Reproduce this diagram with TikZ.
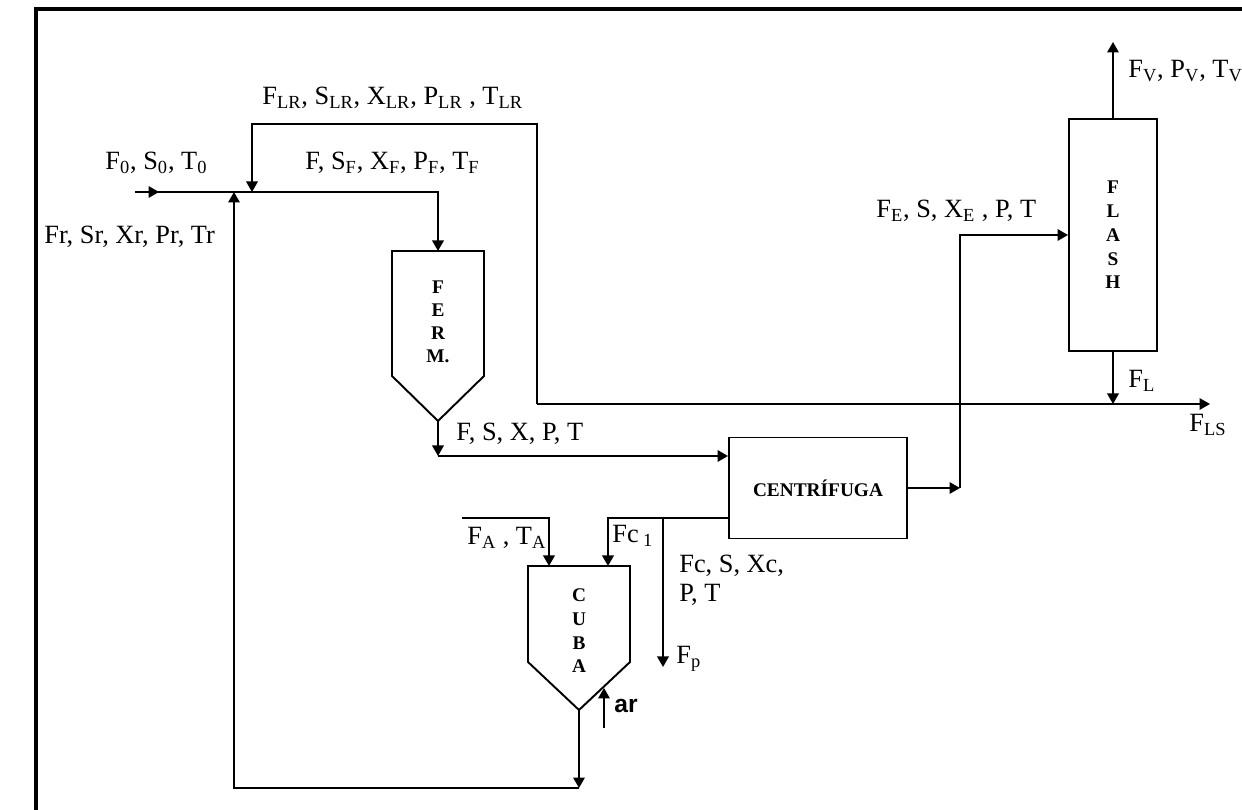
\documentclass[tikz,border=0pt]{standalone}
\usepackage{fontspec}
\setmainfont{Liberation Serif}
\setsansfont{Liberation Sans}
\usetikzlibrary{arrows.meta,positioning,calc}
\tikzset{
  pipe/.style={line width=1.1pt},
  flow/.style={pipe, -{Triangle[length=2.1mm,width=2.3mm]}},
  frame/.style={line width=1.8pt},
  unit/.style={
    draw=black,
    line width=1.1pt,
    fill=white,
    align=center,
    inner sep=0pt
  },
  tag/.style={align=center, inner sep=0pt, font=\bfseries\fontsize{11}{13}\selectfont},
  stream/.style={inner sep=0pt, font=\fontsize{15}{17}\selectfont}
}
% vessel with conical bottom: name, x centre, y top, half width, y cone start, y tip
\newcommand{\tank}[6]{
  \draw[pipe] (#2-#4,#3) -- (#2+#4,#3) -- (#2+#4,#5) -- (#2,#6) -- (#2-#4,#5) -- cycle;
  \coordinate (#1-top) at (#2,#3);
  \coordinate (#1-tip) at (#2,#6);
}

\begin{document}
\begin{tikzpicture}[x=0.02cm, y=-0.02cm]
  \useasboundingbox (0,0) rectangle (1242,810);
  \draw[frame] (36,830) -- (36,9) -- (1260,9);

  % equipment
  \node[unit, minimum width=1.76cm, minimum height=4.64cm, font=\bfseries\fontsize{11}{13.5}\selectfont] (flash) at (1113,235) {F\\L\\A\\S\\H};
  \node[unit, minimum width=3.56cm, minimum height=2.02cm, font=\bfseries\fontsize{11}{13}\selectfont] (cent) at (818,488) {CENTRÍFUGA};
  \tank{ferm}{438}{251}{46}{376}{421}
  \node[tag] (fermtag) at (438,322) {F\\E\\R\\M.};
  \tank{cuba}{579}{566}{51}{662}{710}
  \node[tag, font=\bfseries\fontsize{11}{13.5}\selectfont] (cubatag) at (579,631) {C\\U\\B\\A};

  % stream points
  \coordinate (f0in) at (135,192);
  \coordinate (rjoin) at (234,192);
  \coordinate (lrjoin) at (252,192);
  \coordinate (lrtop) at (252,124);
  \coordinate (lsjoin) at (537,404);
  \coordinate (lsout) at (1210,404);
  \coordinate (vout) at (1113,42);
  \coordinate (fout) at (438,456);
  \coordinate (eturn) at (960,488);
  \coordinate (cbranch) at (663,518);
  \coordinate (fc1in) at (608,566);
  \coordinate (fpout) at (663,667);
  \coordinate (fain) at (462,518);
  \coordinate (fatop) at (549,566);
  \coordinate (arin) at (604,728);
  \coordinate (artip) at (604,688);
  \coordinate (cubaout) at (579,788);
  \coordinate (rbot) at (234,788);

  % streams
  \draw[flow] (f0in) -| (ferm-top);
  \draw[flow] (f0in) -- ++(24,0);
  \draw[flow] (lsjoin) -- (lsout);
  \draw[flow] (lsjoin) |- (lrtop) -- (lrjoin);
  \draw[flow] (flash.north) -- (vout);
  \draw[flow] (flash.south) -- (flash.south |- lsout);
  \draw[flow] (ferm-tip) -- (fout);
  \draw[flow] (fout) -- (fout -| cent.west);
  \draw[flow] (cent.east) -- (eturn);
  \draw[flow] (eturn) |- (flash.west);
  \draw[flow] (cent.west |- cbranch) -| (fc1in);
  \draw[flow] (cbranch) -- (fpout);
  \draw[flow] (fain) -| (fatop);
  \draw[flow] (arin) -- (artip);
  \draw[flow] (cuba-tip) -- (cubaout);
  \draw[flow] (cubaout) -- (rbot) -- (rjoin);

  % labels
  \node[stream, anchor=base west] (lblLR) at (262,105) {F\textsubscript{LR}, S\textsubscript{LR}, X\textsubscript{LR}, P\textsubscript{LR} , T\textsubscript{LR}};
  \node[stream, anchor=base west] (lbl0) at (105,170) {F\textsubscript{0}, S\textsubscript{0}, T\textsubscript{0}};
  \node[stream, anchor=base west] (lblF) at (305,170) {F, S\textsubscript{F}, X\textsubscript{F}, P\textsubscript{F}, T\textsubscript{F}};
  \node[stream, anchor=base west] (lblr) at (44,244) {Fr, Sr, Xr, Pr, Tr};
  \node[stream, anchor=base west] (lblE) at (876,218) {F\textsubscript{E}, S, X\textsubscript{E} , P, T};
  \node[stream, anchor=base west] (lblV) at (1128,78) {F\textsubscript{V}, P\textsubscript{V}, T\textsubscript{V}};
  \node[stream, anchor=base west] (lblL) at (1128,388) {F\textsubscript{L}};
  \node[stream, anchor=base west] (lblLS) at (1189,432) {F\textsubscript{LS}};
  \node[stream, anchor=base west] (lblout) at (456,441) {F, S, X, P, T};
  \node[stream, anchor=base west] (lblA) at (467,545) {F\textsubscript{A} , T\textsubscript{A}};
  \node[stream, anchor=base west] (lblc1) at (612,543) {Fc\,\textsubscript{1}};
  \node[stream, anchor=base west, align=left] (lblc) at (679,602) {Fc, S, Xc,\\P, T};
  \node[stream, anchor=base west] (lblp) at (676,664) {F\textsubscript{p}};
  \node[stream, anchor=base west, font=\sffamily\bfseries\fontsize{14}{16}\selectfont] (lblar) at (614,713) {ar};
\end{tikzpicture}
\end{document}
